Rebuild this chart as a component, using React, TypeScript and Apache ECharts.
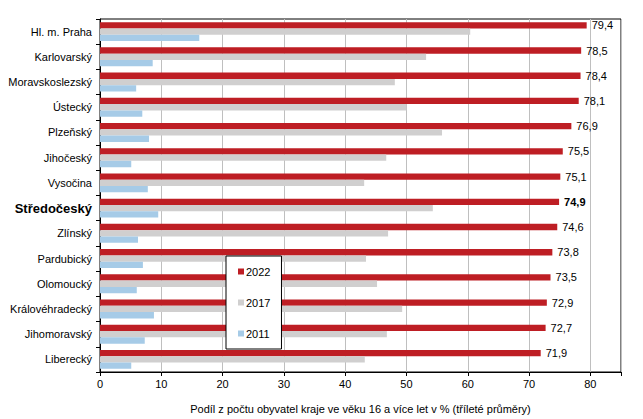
import React, { useEffect, useRef } from "react";
import * as echarts from "echarts";

const categories = [
  "Hl. m. Praha",
  "Karlovarský",
  "Moravskoslezský",
  "Ústecký",
  "Plzeňský",
  "Jihočeský",
  "Vysočina",
  "Středočeský",
  "Zlínský",
  "Pardubický",
  "Olomoucký",
  "Královéhradecký",
  "Jihomoravský",
  "Liberecký",
];
const values2022 = [79.4, 78.5, 78.4, 78.1, 76.9, 75.5, 75.1, 74.9, 74.6, 73.8, 73.5, 72.9, 72.7, 71.9];
const values2017 = [60.4, 53.2, 48.1, 50.0, 55.8, 46.7, 43.1, 54.3, 47.0, 43.4, 45.2, 49.3, 46.8, 43.2];
const values2011 = [16.2, 8.6, 5.9, 6.9, 8.0, 5.1, 7.8, 9.5, 6.2, 7.0, 6.0, 8.8, 7.3, 5.1];
const seriesNames = ["2022", "2017", "2011"];
const xTicks = { min: 0, max: 85, interval: 10 };
const highlight = "Středočeský";
const axisTitle = "Podíl z počtu obyvatel kraje ve věku 16 a více let v % (tříleté průměry)";

const FONT = "'Liberation Sans', Arial, sans-serif";

export default function App() {
  const ref = useRef<HTMLDivElement>(null);
  useEffect(() => {
    if (!ref.current) return;
    const chart = echarts.init(ref.current, undefined, { renderer: "svg" });
    const fmt = (v: number) => v.toFixed(1).replace(".", ",");
    chart.setOption({
      animation: false,
      backgroundColor: "#fff",
      textStyle: { fontFamily: FONT },
      grid: {
        left: 100,
        right: 22,
        top: 19,
        bottom: 46,
        show: true,
        borderColor: "#000",
        borderWidth: 1,
        backgroundColor: "transparent",
      },
      legend: {
        orient: "vertical",
        left: 226,
        top: 256,
        itemWidth: 6,
        itemHeight: 6,
        itemGap: 20,
        icon: "rect",
        padding: [10, 11, 10, 12],
        borderColor: "#000",
        borderWidth: 1,
        backgroundColor: "#fff",
        textStyle: { fontFamily: FONT, fontSize: 11, color: "#000", padding: [0, 0, 0, -3] },
        data: seriesNames,
      },
      xAxis: {
        type: "value",
        min: xTicks.min,
        max: xTicks.max,
        interval: xTicks.interval,
        axisLine: { show: true, lineStyle: { color: "#000" } },
        axisTick: { show: true, length: 4, lineStyle: { color: "#000" } },
        axisLabel: { fontFamily: FONT, fontSize: 11, color: "#000", margin: 6,
          formatter: (v: number) => (v > 80 ? "" : String(v)) },
        splitLine: { show: true, lineStyle: { color: "#bfbfbf", width: 1 } },
        name: axisTitle,
        nameLocation: "middle",
        nameGap: 31,
        nameTextStyle: { fontFamily: FONT, fontSize: 11, color: "#000" },
      },
      yAxis: {
        type: "category",
        inverse: true,
        data: categories,
        axisLine: { show: true, lineStyle: { color: "#000" } },
        axisTick: { show: true, length: 4, lineStyle: { color: "#000" } },
        axisLabel: {
          fontFamily: FONT,
          fontSize: 11,
          color: "#000",
          margin: 8,
          formatter: (v: string) => (v === highlight ? "{b|" + v + "}" : v),
          rich: { b: { fontFamily: FONT, fontSize: 13, fontWeight: "bold", color: "#000" } },
        },
      },
      series: [
        {
          name: seriesNames[0],
          type: "bar",
          data: values2022.map((v, i) => ({
            value: v,
            label: categories[i] === highlight ? { fontWeight: "bold" } : undefined,
          })),
          itemStyle: { color: "#be1e24" },
          barGap: "0%",
          barCategoryGap: "25%",
          label: {
            show: true,
            position: "right",
            distance: 5,
            fontFamily: FONT,
            fontSize: 11,
            color: "#000",
            formatter: (p: any) => fmt(p.value),
          },
        },
        {
          name: seriesNames[1],
          type: "bar",
          data: values2017,
          itemStyle: { color: "#d0cfcf" },
          barGap: "0%",
          barCategoryGap: "25%",
        },
        {
          name: seriesNames[2],
          type: "bar",
          data: values2011,
          itemStyle: { color: "#a6cbe7" },
          barGap: "0%",
          barCategoryGap: "25%",
        },
      ],
    });
    return () => chart.dispose();
  }, []);
  return <div ref={ref} style={{ width: 643, height: 419, position: "absolute", left: 0, top: 0 }} />;
}
